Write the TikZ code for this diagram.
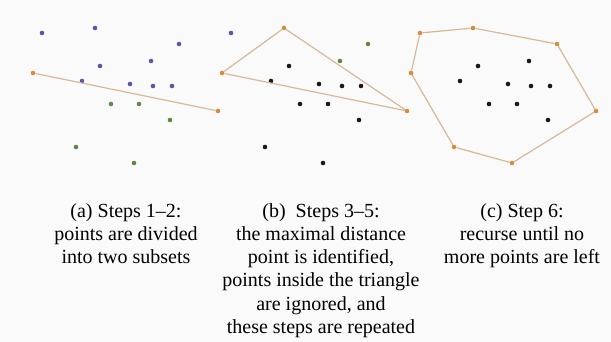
\documentclass[tikz,border=0pt]{standalone}
\usepackage{fontspec}
\setmainfont{Liberation Serif}
\definecolor{ptblue}{RGB}{88,88,170}
\definecolor{ptgreen}{RGB}{100,135,70}
\definecolor{ptorange}{RGB}{215,140,60}
\definecolor{ptblack}{RGB}{25,25,25}
\definecolor{hullcol}{RGB}{215,185,150}
\tikzset{pt/.style={circle,fill=#1,inner sep=0pt,minimum size=4.6pt},hullline/.style={draw=hullcol,line width=1.2pt},caption/.style={align=center,anchor=north,inner sep=0pt,font=\fontsize{20}{23.25}\selectfont}}

\begin{document}
\begin{tikzpicture}[x=1pt,y=-1pt]
\fill[black!2] (0,0) rectangle (611,342);
\useasboundingbox (0,0) rectangle (611,342);
% (a) split by the line through the extreme points
\foreach \n/\x/\y/\c in {L/33/73/ptorange,R/218/111/ptorange,1/42/33/ptblue,2/95/28/ptblue,3/179/44/ptblue,4/100/66/ptblue,5/151/61/ptblue,6/82/81/ptblue,7/130/84/ptblue,8/153/86/ptblue,9/172/86/ptblue,10/111/104/ptgreen,11/139/104/ptgreen,12/170/120/ptgreen,13/76/147/ptgreen,14/134/163/ptgreen}
  \node[pt=\c] (a\n) at (\x,\y) {};
\draw[hullline] (aL) -- (aR);
% (b) triangle with the farthest point
\begin{scope}[xshift=189pt]
\foreach \n/\x/\y/\c in {L/33/73/ptorange,R/218/111/ptorange,1/42/33/ptblue,2/95/28/ptorange,3/179/44/ptgreen,4/100/66/ptblack,5/151/61/ptgreen,6/82/81/ptblack,7/130/84/ptblack,8/153/86/ptblack,9/172/86/ptblack,10/111/104/ptblack,11/139/104/ptblack,12/170/120/ptblack,13/76/147/ptblack,14/134/163/ptblack}
  \node[pt=\c] (b\n) at (\x,\y) {};
\end{scope}
\draw[hullline] (bL) -- (b2) -- (bR) -- (bL);
% (c) final hull
\begin{scope}[xshift=378pt]
\foreach \n/\x/\y/\c in {L/33/73/ptorange,R/218/111/ptorange,1/42/33/ptorange,2/95/28/ptorange,3/179/44/ptorange,4/100/66/ptblack,5/151/61/ptblack,6/82/81/ptblack,7/130/84/ptblack,8/153/86/ptblack,9/172/86/ptblack,10/111/104/ptblack,11/139/104/ptblack,12/170/120/ptblack,13/76/147/ptorange,14/134/163/ptorange}
  \node[pt=\c] (c\n) at (\x,\y) {};
\end{scope}
\draw[hullline] (cL) -- (c1) -- (c2) -- (c3) -- (cR) -- (c14) -- (c13) -- (cL);
\node[caption] (capa) at (126,203) {(a) Steps 1--2:\\points are divided\\into two subsets};
\node[caption] (capb) at (321,203) {(b)~ Steps 3--5:\\the maximal distance\\point is identified,\\points inside the triangle\\are ignored, and\\these steps are repeated};
\node[caption] (capc) at (522,203) {(c) Step 6:\\recurse until no\\more points are left};
\end{tikzpicture}
\end{document}
